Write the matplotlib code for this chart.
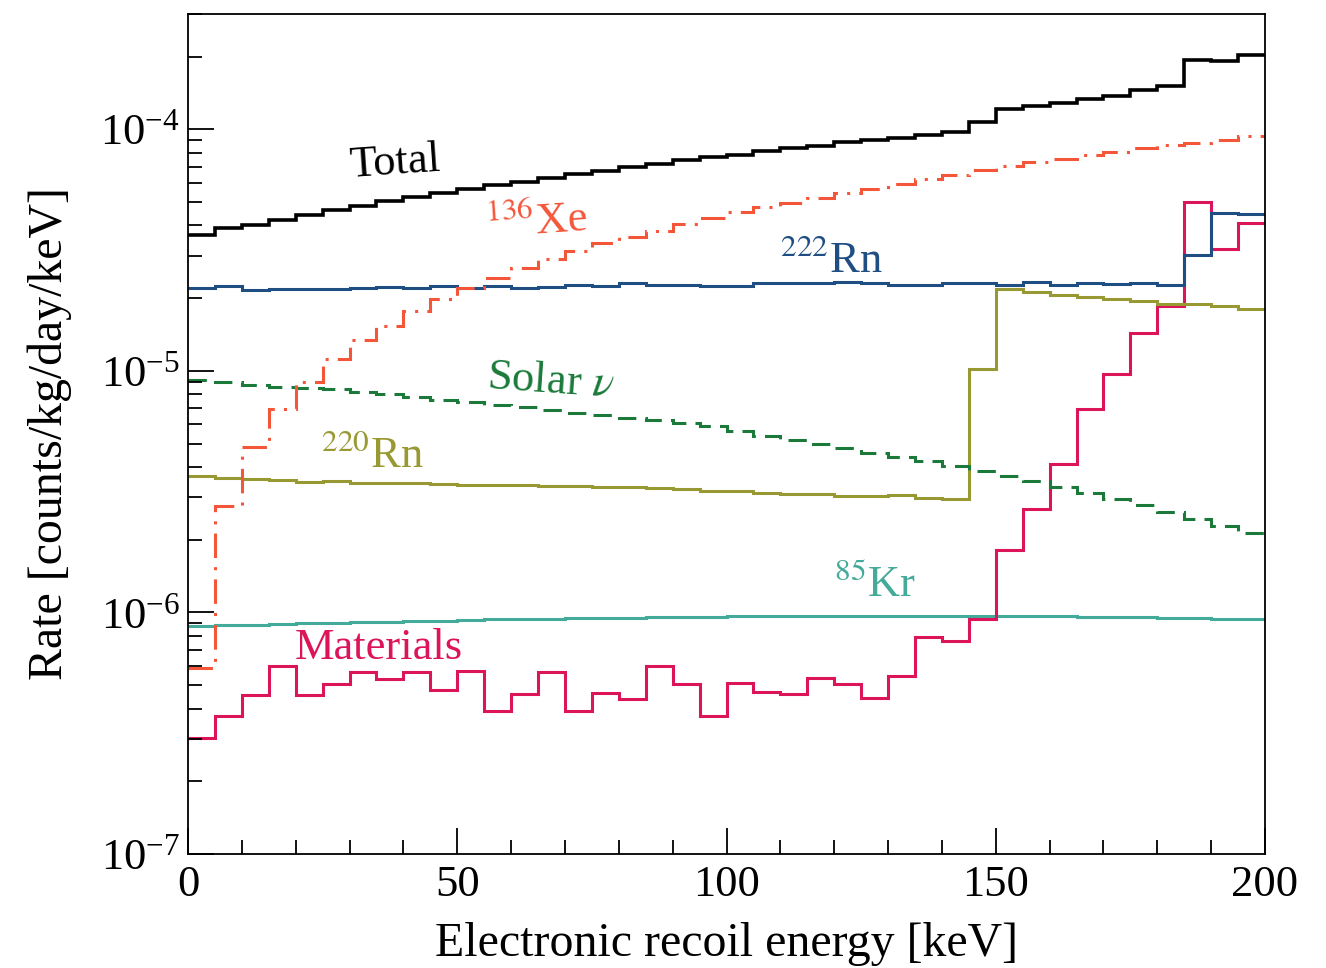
import numpy as np
import matplotlib
matplotlib.use("Agg")
import matplotlib.pyplot as plt
from matplotlib.ticker import LogLocator, MultipleLocator, NullFormatter

# ---------------- data ----------------
bin_edges = np.arange(0, 205, 5)  # 0..200 keV, 5 keV bins

total = [3.65e-5, 3.89e-5, 4.02e-5, 4.22e-5, 4.41e-5, 4.62e-5, 4.82e-5, 5.03e-5,
         5.24e-5, 5.46e-5, 5.67e-5, 5.87e-5, 6.04e-5, 6.28e-5, 6.52e-5, 6.71e-5,
         6.97e-5, 7.20e-5, 7.43e-5, 7.68e-5, 7.85e-5, 8.13e-5, 8.34e-5, 8.55e-5,
         8.83e-5, 9.03e-5, 9.24e-5, 9.47e-5, 9.72e-5, 1.072e-4, 1.218e-4, 1.25e-4,
         1.28e-4, 1.33e-4, 1.376e-4, 1.45e-4, 1.504e-4, 1.935e-4, 1.92e-4, 2.03e-4]

xe136 = [5.87e-7, 2.75e-6, 4.85e-6, 6.93e-6, 9.03e-6, 1.12e-5, 1.34e-5, 1.53e-5,
         1.77e-5, 1.98e-5, 2.20e-5, 2.43e-5, 2.66e-5, 2.90e-5, 3.14e-5, 3.38e-5,
         3.57e-5, 3.80e-5, 4.06e-5, 4.30e-5, 4.54e-5, 4.76e-5, 4.95e-5, 5.19e-5,
         5.44e-5, 5.67e-5, 5.94e-5, 6.24e-5, 6.48e-5, 6.76e-5, 7.02e-5, 7.30e-5,
         7.53e-5, 7.80e-5, 8.05e-5, 8.36e-5, 8.59e-5, 8.81e-5, 9.06e-5, 9.38e-5]

rn222 = [2.21e-5, 2.24e-5, 2.16e-5, 2.19e-5, 2.19e-5, 2.19e-5, 2.21e-5, 2.22e-5,
         2.21e-5, 2.24e-5, 2.21e-5, 2.24e-5, 2.21e-5, 2.22e-5, 2.27e-5, 2.24e-5,
         2.31e-5, 2.27e-5, 2.27e-5, 2.24e-5, 2.24e-5, 2.32e-5, 2.30e-5, 2.30e-5,
         2.33e-5, 2.32e-5, 2.26e-5, 2.26e-5, 2.30e-5, 2.32e-5, 2.26e-5, 2.33e-5,
         2.27e-5, 2.31e-5, 2.28e-5, 2.30e-5, 2.27e-5, 3.03e-5, 4.51e-5, 4.47e-5]

solar_nu = [9.18e-6, 8.95e-6, 8.75e-6, 8.61e-6, 8.50e-6, 8.39e-6, 8.20e-6, 8.02e-6,
            7.82e-6, 7.58e-6, 7.41e-6, 7.22e-6, 7.06e-6, 6.88e-6, 6.71e-6, 6.56e-6,
            6.41e-6, 6.25e-6, 6.06e-6, 5.90e-6, 5.62e-6, 5.37e-6, 5.17e-6, 4.97e-6,
            4.80e-6, 4.59e-6, 4.41e-6, 4.23e-6, 4.04e-6, 3.86e-6, 3.67e-6, 3.49e-6,
            3.31e-6, 3.13e-6, 2.96e-6, 2.79e-6, 2.60e-6, 2.44e-6, 2.28e-6, 2.13e-6]

rn220 = [3.66e-6, 3.60e-6, 3.56e-6, 3.53e-6, 3.47e-6, 3.49e-6, 3.44e-6, 3.44e-6,
         3.44e-6, 3.39e-6, 3.38e-6, 3.38e-6, 3.36e-6, 3.33e-6, 3.33e-6, 3.29e-6,
         3.29e-6, 3.26e-6, 3.24e-6, 3.19e-6, 3.19e-6, 3.13e-6, 3.08e-6, 3.08e-6,
         3.03e-6, 3.03e-6, 3.06e-6, 2.98e-6, 2.94e-6, 1.02e-5, 2.19e-5, 2.12e-5,
         2.06e-5, 2.02e-5, 1.98e-5, 1.95e-5, 1.90e-5, 1.89e-5, 1.85e-5, 1.80e-5]

kr85 = [8.80e-7, 8.85e-7, 8.90e-7, 8.95e-7, 9.00e-7, 9.05e-7, 9.10e-7, 9.15e-7,
        9.20e-7, 9.25e-7, 9.30e-7, 9.35e-7, 9.40e-7, 9.43e-7, 9.46e-7, 9.50e-7,
        9.52e-7, 9.55e-7, 9.57e-7, 9.60e-7, 9.62e-7, 9.64e-7, 9.66e-7, 9.67e-7,
        9.68e-7, 9.68e-7, 9.68e-7, 9.68e-7, 9.68e-7, 9.67e-7, 9.66e-7, 9.64e-7,
        9.62e-7, 9.60e-7, 9.57e-7, 9.54e-7, 9.50e-7, 9.46e-7, 9.41e-7, 9.36e-7]

materials = [3.03e-7, 3.72e-7, 4.55e-7, 6.00e-7, 4.55e-7, 5.04e-7, 5.69e-7, 5.29e-7,
             5.69e-7, 4.78e-7, 5.74e-7, 3.92e-7, 4.58e-7, 5.65e-7, 3.92e-7, 4.63e-7,
             4.36e-7, 6.00e-7, 5.05e-7, 3.73e-7, 5.12e-7, 4.67e-7, 4.58e-7, 5.33e-7,
             5.05e-7, 4.43e-7, 5.45e-7, 7.94e-7, 7.58e-7, 9.42e-7, 1.82e-6, 2.67e-6,
             4.11e-6, 6.95e-6, 9.68e-6, 1.43e-5, 1.85e-5, 5.02e-5, 3.19e-5, 4.08e-5]

# ---------------- style ----------------
plt.rcParams['font.family'] = ['Liberation Serif', 'DejaVu Serif']
plt.rcParams['mathtext.fontset'] = 'stix'
FS_AX = 34.5
FS_TICK = 32
FS_TXT = 32

fig = plt.figure(figsize=(13.26, 9.68), dpi=100)
ax = fig.add_axes([0.1418, 0.1178, 0.954 - 0.1418, 0.9855 - 0.1178])

c_total = 'black'
c_xe = '#F4563A'
c_rn222 = '#1F4E82'
c_solar = '#1B7A3A'
c_rn220 = '#999933'
c_kr = '#44AA99'
c_mat = '#DC145A'

lw = 2.2
ax.stairs(kr85, bin_edges, color=c_kr, lw=lw, baseline=None)
ax.stairs(materials, bin_edges, color=c_mat, lw=lw, baseline=None)
ax.stairs(rn220, bin_edges, color=c_rn220, lw=lw, baseline=None)
ax.stairs(solar_nu, bin_edges, color=c_solar, lw=lw, baseline=None,
          linestyle=(0, (6, 3)))
ax.stairs(rn222, bin_edges, color=c_rn222, lw=lw, baseline=None)
ax.stairs(xe136, bin_edges, color=c_xe, lw=lw, baseline=None,
          linestyle=(0, (8, 3, 1, 3)))
ax.stairs(total, bin_edges, color=c_total, lw=2.6, baseline=None)

ax.set_yscale('log')
ax.set_xlim(0, 200)
ax.set_ylim(1e-7, 3.0e-4)

ax.xaxis.set_major_locator(MultipleLocator(50))
ax.xaxis.set_minor_locator(MultipleLocator(10))
ax.yaxis.set_major_locator(LogLocator(base=10, numticks=10))
ax.yaxis.set_minor_locator(LogLocator(base=10, subs=np.arange(2, 10), numticks=20))
ax.yaxis.set_minor_formatter(NullFormatter())

ax.tick_params(which='both', direction='in', top=False, right=False,
               labelsize=FS_TICK, width=1.3)
ax.tick_params(axis='x', which='both', pad=8)
ax.tick_params(axis='y', which='both', pad=6)
ax.tick_params(which='major', length=19)
ax.tick_params(which='minor', length=10)
for s in ax.spines.values():
    s.set_linewidth(1.3)

ax.set_xlabel('Electronic recoil energy [keV]', fontsize=FS_AX, labelpad=12)
ax.set_ylabel('Rate [counts/kg/day/keV]', fontsize=FS_AX, labelpad=20)

# ---------------- labels ----------------
ax.text(38.4, 7.23e-5, 'Total', color=c_total, fontsize=FS_TXT, ha='center', va='center', rotation=4)
ax.text(64.8, 4.12e-5, r'$^{136}$Xe', color=c_xe, fontsize=FS_TXT, ha='center', va='center', rotation=4)
ax.text(119.4, 2.86e-5, r'$^{222}$Rn', color=c_rn222, fontsize=FS_TXT, ha='center', va='center')
ax.text(67.4, 9.03e-6, r'Solar $\nu$', color=c_solar, fontsize=FS_TXT, ha='center', va='center', rotation=-4)
ax.text(34.2, 4.47e-6, r'$^{220}$Rn', color=c_rn220, fontsize=FS_TXT, ha='center', va='center')
ax.text(127.6, 1.30e-6, r'$^{85}$Kr', color=c_kr, fontsize=FS_TXT, ha='center', va='center')
ax.text(35.5, 7.14e-7, 'Materials', color=c_mat, fontsize=FS_TXT, ha='center', va='center')

fig.savefig('out.png', dpi=100)
